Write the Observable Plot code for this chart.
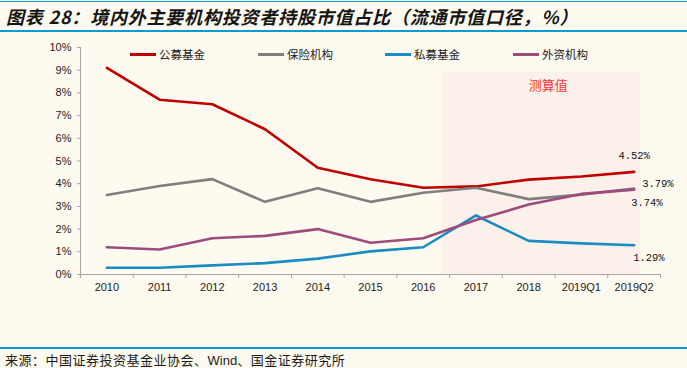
<!DOCTYPE html>
<html>
<head>
<meta charset="utf-8">
<script src="https://cdn.jsdelivr.net/npm/d3@7"></script>
<script src="https://cdn.jsdelivr.net/npm/@observablehq/plot@0.6"></script>
<style>
  html, body { margin: 0; padding: 0; background: #FFFAF0; }
  #wrap { position: relative; width: 687px; height: 368px; background: #FFFAF0; overflow: hidden; }
  #wrap svg { position: absolute; left: 0; top: 0; background: transparent; }
  .abs { position: absolute; white-space: nowrap; }
  .title { left: 6px; top: 4px; font-family: "Noto Sans CJK SC", sans-serif; font-weight: bold; font-style: italic; font-size: 18px; letter-spacing: 0.8px; line-height: 24px; color: #141414; }
  .hline { left: 0; width: 687px; background: #0A9BDB; }
  .src { left: 5px; top: 351px; font-family: "Noto Sans CJK SC", sans-serif; font-size: 13px; line-height: 18px; color: #1a1a1a; letter-spacing: 0.5px; }
  .src .en { font-family: "Liberation Sans", Arial, sans-serif; letter-spacing: 0; }
  .leg-line { height: 3px; width: 26px; }
  .leg-text { font-family: "Noto Sans CJK SC", sans-serif; font-size: 11.5px; line-height: 14px; color: #222; }
</style>
</head>
<body>
<div id="wrap">
  <div class="abs hline" style="top:1px;height:1px;"></div>
  <div class="abs title">图表 28：境内外主要机构投资者持股市值占比（流通市值口径，%）</div>
  <div class="abs hline" style="top:30px;height:2px;"></div>
  <div class="abs hline" style="top:347px;height:2px;"></div>
  <div class="abs src">来源：中国证券投资基金业协会、<span class="en">Wind</span>、国金证券研究所</div>
  <div id="legend"></div>
</div>
<script>
// ---- Data ----
const categories = ["2010", "2011", "2012", "2013", "2014", "2015", "2016", "2017", "2018", "2019Q1", "2019Q2"];
const seriesNames = ["公募基金", "保险机构", "私募基金", "外资机构"];
const publicFunds   = [9.1, 7.7, 7.5, 6.4, 4.7, 4.2, 3.82, 3.88, 4.18, 4.32, 4.52];
const insurance     = [3.5, 3.9, 4.2, 3.2, 3.8, 3.2, 3.6, 3.82, 3.32, 3.52, 3.79];
const privateFunds  = [0.3, 0.3, 0.4, 0.5, 0.7, 1.02, 1.2, 2.6, 1.48, 1.37, 1.29];
const foreignInst   = [1.2, 1.1, 1.6, 1.7, 2.0, 1.4, 1.6, 2.4, 3.08, 3.55, 3.74];
const seriesColors  = ["#C00000", "#7F7F7F", "#1A8CC2", "#9C4C7C"];
const yTicks = [0, 1, 2, 3, 4, 5, 6, 7, 8, 9, 10];
const estimateLabel = "测算值";
const estimateStart = "2017";

const seriesValues = [publicFunds, insurance, privateFunds, foreignInst];
const rows = [];
seriesNames.forEach((name, s) => {
  seriesValues[s].forEach((v, i) => rows.push({series: name, i, value: v}));
});

// end-of-line labels (last value of each series), offsets in pixels
const labelOffsets = {
  "公募基金": {dx: 0, dy: -16, anchor: "middle"},
  "保险机构": {dx: 8, dy: -5, anchor: "start"},
  "外资机构": {dx: -3, dy: 13, anchor: "start"},
  "私募基金": {dx: -1, dy: 12, anchor: "start"}
};
const last = categories.length - 1;
const endLabels = seriesNames.map((name, s) => ({
  series: name, i: last, value: seriesValues[s][last],
  text: seriesValues[s][last].toFixed(2) + "%"
}));

// estimate-period band
const estIdx = categories.indexOf(estimateStart);
const estBand = [{x1: estIdx - 0.65, x2: last + 0.13, y1: 0, y2: 8.9}];

const boundaries = d3.range(-0.5, categories.length, 1);
const labelMarks = endLabels.map(d => {
  const o = labelOffsets[d.series];
  return Plot.text([d], {
    x: "i", y: "value", text: "text", dx: o.dx, dy: o.dy, textAnchor: o.anchor,
    fontFamily: "Liberation Mono, monospace", fontSize: 10.5, fill: "#111"
  });
});

const chart = Plot.plot({
  width: 687,
  height: 368,
  marginLeft: 80,
  marginRight: 27,
  marginTop: 47,
  marginBottom: 94,
  style: {background: "transparent", fontFamily: "Liberation Sans, Arial, sans-serif", color: "#222"},
  x: {type: "linear", domain: [-0.5, categories.length - 0.5], axis: null},
  y: {domain: [0, 10], axis: null},
  color: {domain: seriesNames, range: seriesColors},
  marks: [
    Plot.rect(estBand, {x1: "x1", x2: "x2", y1: "y1", y2: "y2", fill: "#FCF1EA"}),
    Plot.text([estimateLabel], {x: estIdx + 1.37, y: 8.33, text: d => d, fill: "#FF3333", fontSize: 13, fontFamily: "Noto Sans CJK SC, sans-serif"}),
    Plot.axisY({ticks: yTicks, tickFormat: d => d + "%", tickSize: 3, tickPadding: 6, fontSize: 11, label: null, stroke: "#A6A6A6"}),
    Plot.axisX({ticks: boundaries, tickFormat: () => "", tickSize: 4, label: null, stroke: "#A6A6A6"}),
    Plot.axisX({ticks: d3.range(categories.length), tickFormat: i => categories[i], tickSize: 0, tickPadding: 9, fontSize: 11, label: null}),
    Plot.ruleX([-0.5], {stroke: "#A6A6A6"}),
    Plot.ruleY([0], {stroke: "#A6A6A6"}),
    Plot.line(rows, {x: "i", y: "value", z: "series", stroke: "series", strokeWidth: 2.6, strokeLinejoin: "round"}),
    ...labelMarks
  ]
});
document.getElementById("wrap").appendChild(chart);

// legend
const legendX = [130, 258, 385, 513];
const legend = document.getElementById("legend");
seriesNames.forEach((name, s) => {
  const line = document.createElement("div");
  line.className = "abs leg-line";
  line.style.left = legendX[s] + "px";
  line.style.top = "53px";
  line.style.background = seriesColors[s];
  legend.appendChild(line);
  const t = document.createElement("div");
  t.className = "abs leg-text";
  t.style.left = (legendX[s] + 29) + "px";
  t.style.top = "47px";
  t.textContent = name;
  legend.appendChild(t);
});
</script>
</body>
</html>
